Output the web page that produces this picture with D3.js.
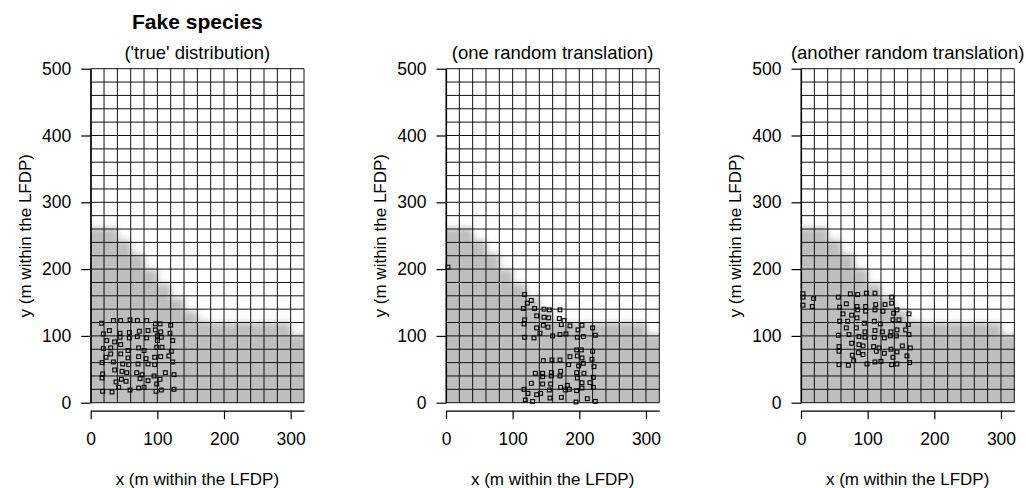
<!DOCTYPE html>
<html>
<head>
<meta charset="utf-8">
<script src="https://cdn.jsdelivr.net/npm/d3@7"></script>
<style>
body { margin: 0; background: #fff; }
text { font-family: "Liberation Sans", Arial, sans-serif; fill: #000; }
</style>
</head>
<body>
<script>
// axis ticks
const xTicks = [0, 100, 200, 300];
const yTicks = [0, 100, 200, 300, 400, 500];

// habitat raster: top (m) of the gray habitat for each 20 m column, x = 0..300
const habitatCols = [0, 20, 40, 60, 80, 100, 120, 140, 160, 180, 200, 220, 240, 260, 280, 300];
const habitatTop  = [262, 262, 243, 223, 200, 178, 157, 137, 122, 120, 120, 120, 120, 120, 120, 102];

const titles = ["('true' distribution)", "(one random translation)", "(another random translation)"];

// stems of the fake species, [x, y] in m
const ptsTrue = [
  [34,123],[45,123],[59,124],[70,123],[84,123],[16,119],[97,118],[104,118],[120,116],
  [28,108],[19,103],[44,104],[58,105],[73,107],[86,108],[97,109],[105,106],[119,104],
  [44,98],[58,97],[70,99],[84,97],[100,100],[106,98],
  [24,93],[36,91],[45,87],[100,93],[123,93],
  [19,81],[30,82],[72,82],[80,78],[99,83],[107,83],[121,77],
  [56,78],[30,73],[45,73],[23,68],[56,67],[72,69],[83,66],[96,68],[105,69],[117,70],
  [17,60],[34,61],[48,58],[57,57],[71,58],[86,58],[96,57],[123,61],
  [36,49],[47,47],[54,45],[69,45],[77,42],[95,40],[112,45],[125,42],
  [18,43],[17,37],
  [46,35],[53,32],[74,36],[86,33],[104,35],[99,28],
  [38,31],[42,23],[59,19],[72,22],[80,23],[98,17],[106,19],[125,20],
  [18,17],[32,16]
];

const ptsShift1 = [
  [3,203],
  [118,162],[128,153],[122,149],
  [116,141],[133,141],[147,140],[155,139],[171,139],
  [136,130],[147,128],[154,127],[170,126],[177,123],
  [118,124],[117,118],[146,116],[153,113],[136,112],[173,117],[186,115],[204,116],[220,112],
  [141,104],[198,109],[118,98],[132,97],[160,100],[171,102],[180,103],[197,98],[206,99],[224,101],
  [196,79],[203,79],[220,77],
  [197,70],[186,69],[204,67],[219,65],
  [146,63],[159,64],[171,64],[184,57],[199,55],[206,59],[222,54],
  [134,44],[145,44],[158,45],[172,47],[196,45],[207,44],
  [145,39],[158,40],[171,40],[197,37],[221,38],
  [128,29],[145,28],[157,28],[182,26],[204,30],[216,30],[221,23],
  [117,20],[123,14],[136,12],[142,14],[155,19],[172,23],[179,19],[185,20],[196,18],[204,22],
  [119,4],[130,2],[156,7],[173,8],[195,1],[212,6],[224,2]
];

const ptsShift2 = [
  [3,163],[3,158],[19,156],[3,146],[17,144],
  [74,163],[85,162],[98,164],[111,164],[56,158],[136,158],
  [68,148],[58,143],[84,144],[97,144],[112,147],[126,147],[136,149],
  [85,139],[97,137],[111,139],[123,137],[144,139],[139,134],[63,133],[76,131],[162,133],
  [84,127],[58,122],[70,122],[119,118],[110,122],[138,124],[147,124],[161,117],[95,119],
  [68,112],[83,112],[96,106],[111,108],[122,106],[135,106],[144,109],[157,109],[56,101],
  [72,102],[87,99],[96,98],[110,98],[125,97],[134,100],[143,100],[162,102],
  [76,89],[87,87],[93,85],[109,84],[117,82],[135,80],[152,85],[164,82],
  [57,84],[57,77],[77,71],[86,75],[93,72],[113,77],[125,74],[144,76],[138,68],[159,70],
  [79,63],[57,57],[71,56],[99,58],[111,61],[120,62],[136,57],[144,58],[163,60]
];

const panelPoints = [ptsTrue, ptsShift1, ptsShift2];

function init() {
  const svg = d3.select("body").append("svg")
    .attr("width", 1026)
    .attr("height", 488);

  const defs = svg.append("defs");
  defs.append("filter")
    .attr("id", "soft")
    .attr("filterUnits", "userSpaceOnUse")
    .attr("x", -100).attr("y", -100).attr("width", 1300).attr("height", 700)
    .append("feGaussianBlur")
    .attr("stdDeviation", 3.2);

  const panelLeft = [90.7, 446, 801];
  const yScale = d3.scaleLinear().domain([0, 500]).range([402.7, 68.7]);

  // main title over the first panel
  svg.append("text")
    .attr("x", panelLeft[0] + 106.7)
    .attr("y", 28.5)
    .attr("text-anchor", "middle")
    .style("font-size", "21px")
    .style("font-weight", "bold")
    .text("Fake species");

  panelPoints.forEach(function(pts, i) {
    const x0 = panelLeft[i];
    const xScale = d3.scaleLinear().domain([0, 320]).range([x0, x0 + 213.3]);
    const g = svg.append("g");

    const clipId = "clip" + i;
    defs.append("clipPath").attr("id", clipId)
      .append("rect")
      .attr("x", xScale(0))
      .attr("y", yScale(500))
      .attr("width", xScale(320) - xScale(0))
      .attr("height", yScale(0) - yScale(500));

    // gray habitat, blurred like an interpolated raster
    const hab = g.append("g").attr("clip-path", "url(#" + clipId + ")")
      .append("g").attr("filter", "url(#soft)");
    hab.selectAll("rect")
      .data(habitatCols)
      .join("rect")
      .attr("x", (d, j) => xScale(j === 0 ? -40 : d))
      .attr("width", (d, j) => xScale(j === habitatCols.length - 1 ? 360 : d + 20) - xScale(j === 0 ? -40 : d) + 0.5)
      .attr("y", (d, j) => yScale(habitatTop[j]))
      .attr("height", (d, j) => yScale(-40) - yScale(habitatTop[j]))
      .attr("fill", "#bebebe");

    // 20 m grid
    const xGrid = d3.range(0, 321, 20);
    const yGrid = d3.range(0, 501, 20);
    g.selectAll("line.vg")
      .data(xGrid)
      .join("line")
      .attr("class", "vg")
      .attr("x1", d => xScale(d)).attr("x2", d => xScale(d))
      .attr("y1", yScale(0)).attr("y2", yScale(500))
      .attr("stroke", "#111").attr("stroke-width", 1);
    g.selectAll("line.hg")
      .data(yGrid)
      .join("line")
      .attr("class", "hg")
      .attr("y1", d => yScale(d)).attr("y2", d => yScale(d))
      .attr("x1", xScale(0)).attr("x2", xScale(320))
      .attr("stroke", "#111").attr("stroke-width", 1);

    // stems
    const s = 3.8;
    g.selectAll("rect.pt")
      .data(pts)
      .join("rect")
      .attr("class", "pt")
      .attr("x", d => xScale(d[0]) - s / 2)
      .attr("y", d => yScale(d[1]) - s / 2)
      .attr("width", s).attr("height", s)
      .attr("fill", "none")
      .attr("stroke", "#000")
      .attr("stroke-width", 1.1);

    // x axis
    const xAxis = g.append("g")
      .attr("transform", "translate(0,410.7)")
      .call(d3.axisBottom(xScale).tickValues(xTicks).tickSize(8.5).tickPadding(13).tickSizeOuter(0));
    xAxis.select(".domain").attr("stroke", "#000").attr("stroke-width", 1.2);
    xAxis.selectAll(".tick line").attr("stroke", "#000").attr("stroke-width", 1.2);
    xAxis.selectAll(".tick text")
      .style("font-size", "17.5px")
      .style("font-family", "'Liberation Sans', Arial, sans-serif")
      .attr("fill", "#000");

    // y axis
    const yAxis = g.append("g")
      .attr("transform", "translate(" + xScale(0) + ",0)")
      .call(d3.axisLeft(yScale).tickValues(yTicks).tickSize(9.5).tickPadding(10).tickSizeOuter(0));
    yAxis.select(".domain").attr("stroke", "#000").attr("stroke-width", 1.2);
    yAxis.selectAll(".tick line").attr("stroke", "#000").attr("stroke-width", 1.2);
    yAxis.selectAll(".tick text")
      .style("font-size", "17.5px")
      .style("font-family", "'Liberation Sans', Arial, sans-serif")
      .attr("fill", "#000");

    // subtitle
    g.append("text")
      .attr("x", xScale(160))
      .attr("y", 59)
      .attr("text-anchor", "middle")
      .style("font-size", "18.5px")
      .text(titles[i]);

    // axis titles
    g.append("text")
      .attr("x", xScale(160))
      .attr("y", 485)
      .attr("text-anchor", "middle")
      .style("font-size", "17px")
      .text("x (m within the LFDP)");
    g.append("text")
      .attr("transform", "translate(" + (x0 - 60) + "," + 235.7 + ") rotate(-90)")
      .attr("text-anchor", "middle")
      .style("font-size", "17px")
      .text("y (m within the LFDP)");
  });
}

init();
</script>
</body>
</html>
